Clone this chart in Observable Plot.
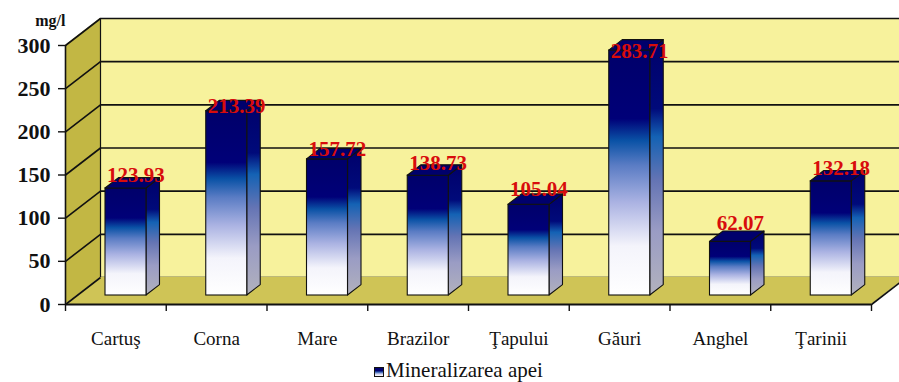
<!DOCTYPE html>
<html>
<head>
<meta charset="utf-8">
<script src="https://cdn.jsdelivr.net/npm/d3@7"></script>
<script src="https://cdn.jsdelivr.net/npm/@observablehq/plot@0.6"></script>
<style>
  html, body { margin: 0; padding: 0; background: #fff; overflow: hidden; }
  #chart svg { display: block; }
  #legend { height: 28px; display: flex; align-items: center; justify-content: center;
    color: #111; padding-left: 18px; box-sizing: border-box; }
  #legend .sw { width: 8px; height: 8px; border: 1px solid #111; margin-right: 2px; margin-top: 3px;
    background: linear-gradient(#000070 0%, #000070 35%, #2a5cb0 50%, #c8cbea 75%, #fff 100%); }
</style>
</head>
<body>
<div id="chart"></div>
<div id="legend"></div>
<script>
const categories = ["Cartuş", "Corna", "Mare", "Brazilor", "Ţapului", "Găuri", "Anghel", "Ţarinii"];
const values = [123.93, 213.39, 157.72, 138.73, 105.04, 283.71, 62.07, 132.18];
const yTicks = [0, 50, 100, 150, 200, 250, 300];
const unitLabel = "mg/l";
const seriesName = "Mineralizarea apei";

// layout
const W = 899, H = 356;
const mL = 65, mR = 28, mT = 45, mB = H - 304;
const yMax = 300;
const pxX = (W - mL - mR) / categories.length;   // px per x unit
const pxY = (H - mT - mB) / yMax;                // px per y unit
// depth of the box (back wall offset) in data units
const KX = 35 / pxX, KY = 27 / pxY;
// bar geometry (data units)
const F1 = 40 / pxX, F2 = 81 / pxX;      // front face within band
const SX = 13.5 / pxX, SY = 10.4 / pxY;  // bar depth
const BAR_DY = -9;                        // bars sit a bit behind the front edge

const idx = d3.range(categories.length);
const sideFaces = idx.flatMap(i => [
  {i, x: i + F2, y1: 0, y2: values[i]},
  {i, x: i + F2 + SX, y1: SY, y2: values[i] + SY}
]);
const topFaces = idx.flatMap(i => [
  {i, y: values[i], x1: i + F1, x2: i + F2},
  {i, y: values[i] + SY, x1: i + F1 + SX, x2: i + F2 + SX}
]);
const n = categories.length;
const sideWall = [
  {x: 0, y1: 0, y2: yMax},
  {x: KX, y1: KY, y2: yMax + KY}
];
const floor = [
  {y: 0, x1: 0, x2: n},
  {y: KY, x1: KX, x2: n + KX}
];

const serif = "'Liberation Serif', 'Times New Roman', serif";

const chart = Plot.plot({
  width: W, height: H,
  marginLeft: mL, marginRight: mR, marginTop: mT, marginBottom: mB,
  style: {fontFamily: serif, color: "#111", background: "#fff", overflow: "visible"},
  x: {type: "linear", domain: [0, n]},
  y: {type: "linear", domain: [0, yMax]},
  marks: [
    // back wall
    Plot.rect([0], {x1: 0, x2: n, y1: 0, y2: yMax, dx: 35, dy: -27, fill: "#f7f29c"}),
    Plot.ruleY(yTicks, {x1: 0, x2: n, dx: 35, dy: -27, stroke: "#111", strokeWidth: 1.6}),
    // floor
    Plot.areaX(floor, {y: "y", x1: "x1", x2: "x2", fill: "#cfc456", curve: "linear"}),
    // side wall
    Plot.areaY(sideWall, {x: "x", y1: "y1", y2: "y2", fill: "#c2b744", curve: "linear"}),
    Plot.link(yTicks, {x1: 0, y1: d => d, x2: KX, y2: d => d + KY, stroke: "#111", strokeWidth: 1.6}),
    Plot.ruleX([0], {y1: 0, y2: yMax, stroke: "#111", strokeWidth: 1.6}),
    Plot.ruleX([KX], {y1: KY, y2: yMax + KY, stroke: "#111", strokeWidth: 1.2}),
    Plot.ruleY([0], {x1: 0, x2: n, stroke: "#111", strokeWidth: 1.8}),
    Plot.link([n], {x1: d => d, y1: 0, x2: d => d + KX, y2: KY, stroke: "#111", strokeWidth: 1.6}),
    // bars: side, front, top
    Plot.areaY(sideFaces, {x: "x", y1: "y1", y2: "y2", z: "i", fill: "url(#gSide)", stroke: "#111", strokeWidth: 1.1, curve: "linear", dy: BAR_DY}),
    Plot.rect(values, {x1: (d, i) => i + F1, x2: (d, i) => i + F2, y1: 0, y2: d => d, fill: "url(#gFront)", stroke: "#111", strokeWidth: 1.1, dy: BAR_DY}),
    Plot.areaX(topFaces, {y: "y", x1: "x1", x2: "x2", z: "i", fill: "#00006c", stroke: "#111", strokeWidth: 1.1, curve: "linear", dy: BAR_DY}),
    // value labels
    Plot.text(values, {x: (d, i) => i + 0.5, y: d => KY + 0.895 * d, dx: 20, text: d => d.toFixed(2),
      fill: "#d80c0c", fontSize: 21, fontWeight: "bold", fontFamily: serif, lineAnchor: "bottom"}),
    // axes
    Plot.axisY(yTicks, {tickSize: 7, tickPadding: 8, fontSize: 22, fontWeight: "bold", fontFamily: serif, label: null, stroke: "#111", strokeWidth: 1.4}),
    Plot.axisX(d3.range(n + 1), {tickSize: 7, tickFormat: () => "", label: null, strokeWidth: 1.4}),
    Plot.axisX(idx.map(i => i + 0.5), {tickSize: 0, tickPadding: 27, fontSize: 19, fontFamily: serif, label: null,
      tickFormat: d => categories[Math.floor(d)]}),
    // unit
    Plot.text([unitLabel], {frameAnchor: "top-left", dx: 0, dy: -20, textAnchor: "end", lineAnchor: "bottom",
      fontSize: 16, fontWeight: "bold", fontFamily: serif})
  ]
});

// gradients
const defs = d3.select(chart).insert("defs", ":first-child");
function grad(id, stops) {
  const g = defs.append("linearGradient").attr("id", id)
    .attr("x1", 0).attr("y1", 0).attr("x2", 0).attr("y2", 1);
  stops.forEach(([o, c]) => g.append("stop").attr("offset", o).attr("stop-color", c));
}
grad("gFront", [[0, "#00006a"], [0.28, "#000078"], [0.37, "#0a52a6"], [0.47, "#5a7cc4"],
  [0.62, "#aab2e2"], [0.8, "#f4f4fb"], [1, "#ffffff"]]);
grad("gSide", [[0, "#00006a"], [0.27, "#000a7a"], [0.38, "#1462b4"], [0.55, "#6474b4"],
  [0.75, "#9a9cc4"], [1, "#b2b2bd"]]);

document.getElementById("chart").append(chart);
const lg = document.getElementById("legend");
const sw = document.createElement("span"); sw.className = "sw";
const tx = document.createElement("span");
tx.style.fontFamily = serif;
tx.style.fontSize = "21px";
tx.style.lineHeight = "28px";
tx.textContent = seriesName;
lg.append(sw, tx);
</script>
</body>
</html>
